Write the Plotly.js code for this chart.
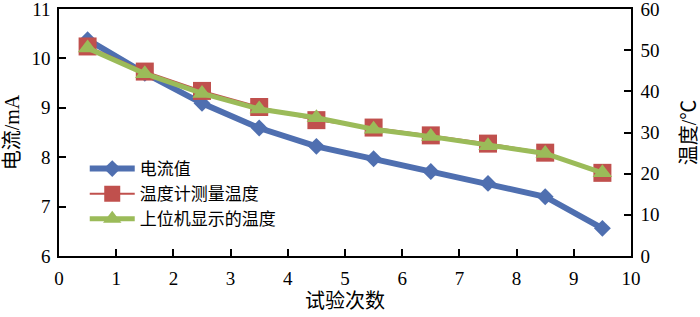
<!DOCTYPE html>
<html>
<head>
<meta charset="utf-8">
<script src="https://cdn.plot.ly/plotly-3.0.1.min.js"></script>
</head>
<body style="margin:0;padding:0;background:#fff">
<div id="chart"></div>
<script>
const trials = [0.5, 1.5, 2.5, 3.5, 4.5, 5.5, 6.5, 7.5, 8.5, 9.5];
const currentMA = [10.38, 9.7, 9.09, 8.59, 8.22, 7.97, 7.71, 7.47, 7.2, 6.56];
const tempMeasured = [50.9, 44.8, 40.1, 36.2, 33.0, 31.2, 29.3, 27.3, 25.1, 20.2];
const tempDisplayed = [50.5, 44.3, 39.5, 35.7, 33.6, 30.8, 29.0, 26.8, 24.9, 20.2];
const seriesNames = ['电流值', '温度计测量温度', '上位机显示的温度'];

const serif = 'Liberation Serif';
const serifStack = '"Liberation Serif", "Noto Sans CJK SC", serif';
const traces = [
  {x: trials, y: currentMA, name: seriesNames[0], type: 'scatter', mode: 'lines+markers',
   line: {color: '#4f6fb0', width: 6}, marker: {symbol: 'diamond', size: 13, color: '#4f6fb0'}},
  {x: trials, y: tempMeasured, name: seriesNames[1], type: 'scatter', mode: 'lines+markers', yaxis: 'y2',
   line: {color: '#c0504d', width: 2}, marker: {symbol: 'square', size: 18, color: '#c0504d'}},
  {x: trials, y: tempDisplayed, name: seriesNames[2], type: 'scatter', mode: 'lines+markers', yaxis: 'y2',
   line: {color: '#9bbb59', width: 5}, marker: {symbol: 'triangle-up', size: 17, color: '#9bbb59'}}
];

const layout = {
  width: 700, height: 317,
  margin: {l: 59, r: 69, t: 9, b: 61, pad: 0},
  paper_bgcolor: '#fff', plot_bgcolor: '#fff',
  font: {family: serif, size: 19, color: '#000'},
  showlegend: true,
  legend: {x: 0.045, y: 0.425, xanchor: 'left', yanchor: 'top', bgcolor: 'rgba(0,0,0,0)',
           itemwidth: 45, font: {family: serif, size: 17}, tracegroupgap: 0},
  xaxis: {range: [0, 10], dtick: 1, tick0: 0, mirror: true, ticks: 'inside', ticklen: 7, tickwidth: 1.5,
          tickcolor: '#000', showline: true, linecolor: '#000', linewidth: 1.5, showgrid: false, zeroline: false,
          ticklabeloverflow: 'allow', ticklabelstandoff: 4, tickfont: {family: serif},
          title: {text: '试验次数', font: {family: serif, size: 20}, standoff: 6}},
  yaxis: {range: [6, 11], dtick: 1, ticks: 'inside', ticklen: 7, tickwidth: 1.5,
          tickcolor: '#000', showline: true, linecolor: '#000', linewidth: 1.5, showgrid: false, zeroline: false,
          ticklabeloverflow: 'allow', ticklabelstandoff: 3, tickfont: {family: serif},
          title: {text: '电流/mA', font: {family: serif, size: 20}, standoff: 6}},
  yaxis2: {range: [0, 60], dtick: 10, overlaying: 'y', side: 'right', ticks: 'inside', ticklen: 7, tickwidth: 1.5,
          tickcolor: '#000', showline: true, linecolor: '#000', linewidth: 1.5, showgrid: false, zeroline: false,
          ticklabeloverflow: 'allow', ticklabelstandoff: 4, tickfont: {family: serif},
          title: {text: '温度/℃', font: {family: serif, size: 20}, standoff: 28}}
};

function forceSerif() {
  document.querySelectorAll('#chart svg text, #chart svg tspan').forEach(function (el) {
    el.style.setProperty('font-family', serifStack, 'important');
  });
}

const gd = document.getElementById('chart');
Plotly.newPlot(gd, traces, layout, {displayModeBar: false}).then(function () {
  forceSerif();
  gd.on('plotly_afterplot', forceSerif);
});
</script>
</body>
</html>
